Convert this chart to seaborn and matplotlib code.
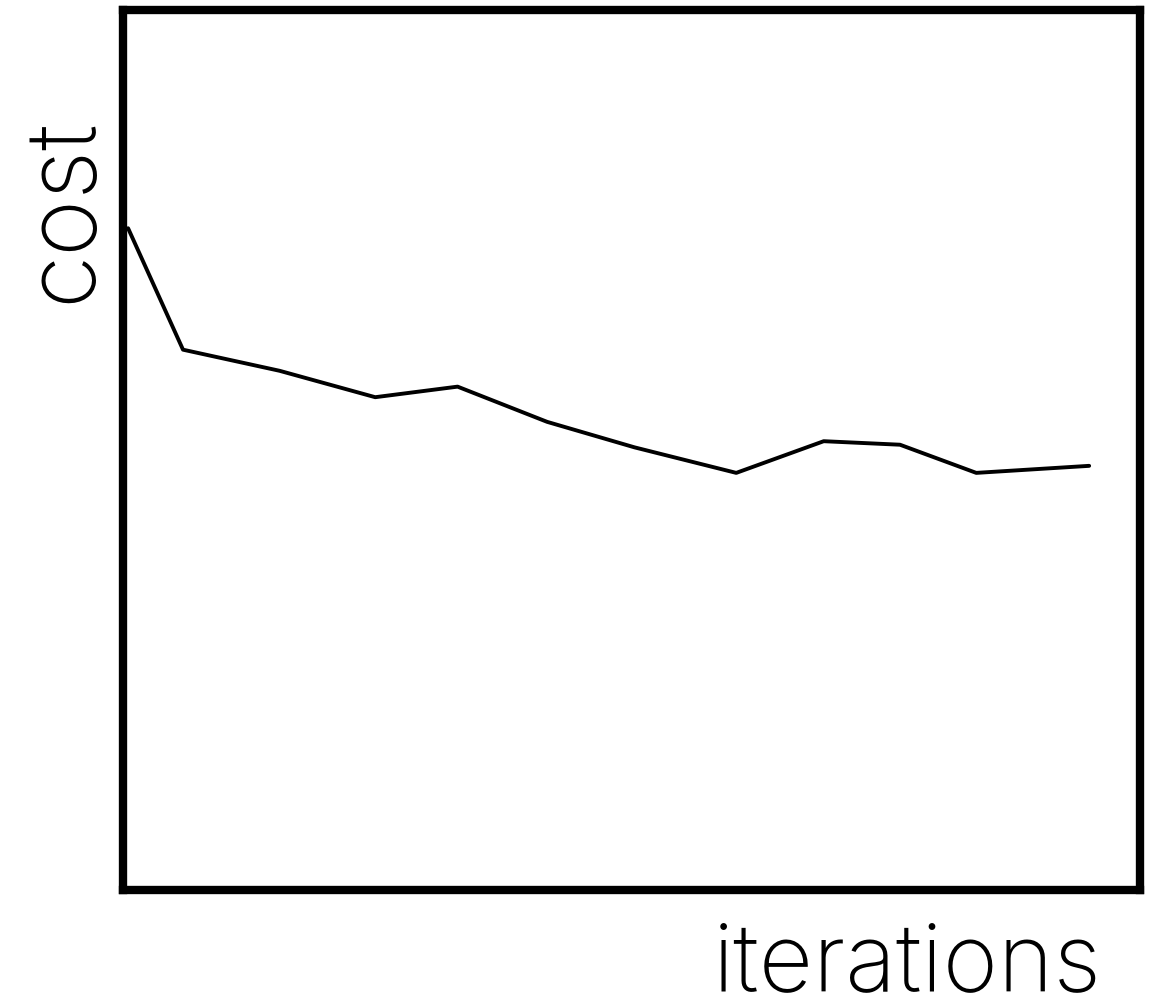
import matplotlib
matplotlib.use("Agg")
import matplotlib.pyplot as plt
import seaborn as sns
import pandas as pd

sns.set_theme(style="white")
plt.rcParams['font.family'] = ['Inter', 'DejaVu Sans']
plt.rcParams['text.color'] = 'black'
plt.rcParams['axes.labelcolor'] = 'black'

# Training progress: cost per iteration (arbitrary units)
iterations = [0.5, 5.9, 15.4, 24.8, 32.9, 41.7, 50.3, 60.3, 68.9, 76.4, 83.9, 95.0]
cost = [75.2, 61.4, 59.0, 56.0, 57.2, 53.2, 50.3, 47.4, 51.0, 50.6, 47.4, 48.2]

df = pd.DataFrame({"iterations": iterations, "cost": cost})

fig = plt.figure(figsize=(11.54, 10.02), dpi=100)
ax = fig.add_axes([123 / 1154, 1 - 890 / 1002, (1140 - 123) / 1154, (890 - 10) / 1002])

sns.lineplot(data=df, x="iterations", y="cost", ax=ax, color="black", linewidth=2.8)

ax.set_xlim(0, 100)
ax.set_ylim(0, 100)
ax.set_xticks([])
ax.set_yticks([])
for s in ax.spines.values():
    s.set_visible(True)
    s.set_color("black")
    s.set_linewidth(6)

ax.set_xlabel("iterations", fontsize=68, fontweight="light", ha="right", va="baseline")
ax.xaxis.label.set_rotation_mode("anchor")
ax.xaxis.set_label_coords((1102 - 123) / 1017, (890 - 990) / 880)

ax.set_ylabel("cost", fontsize=70, fontweight="light", ha="left", va="baseline")
ax.yaxis.label.set_rotation_mode("anchor")
ax.yaxis.set_label_coords((90 - 123) / 1017, (890 - 303) / 880)

fig.savefig("out.png", dpi=100, facecolor="white")
